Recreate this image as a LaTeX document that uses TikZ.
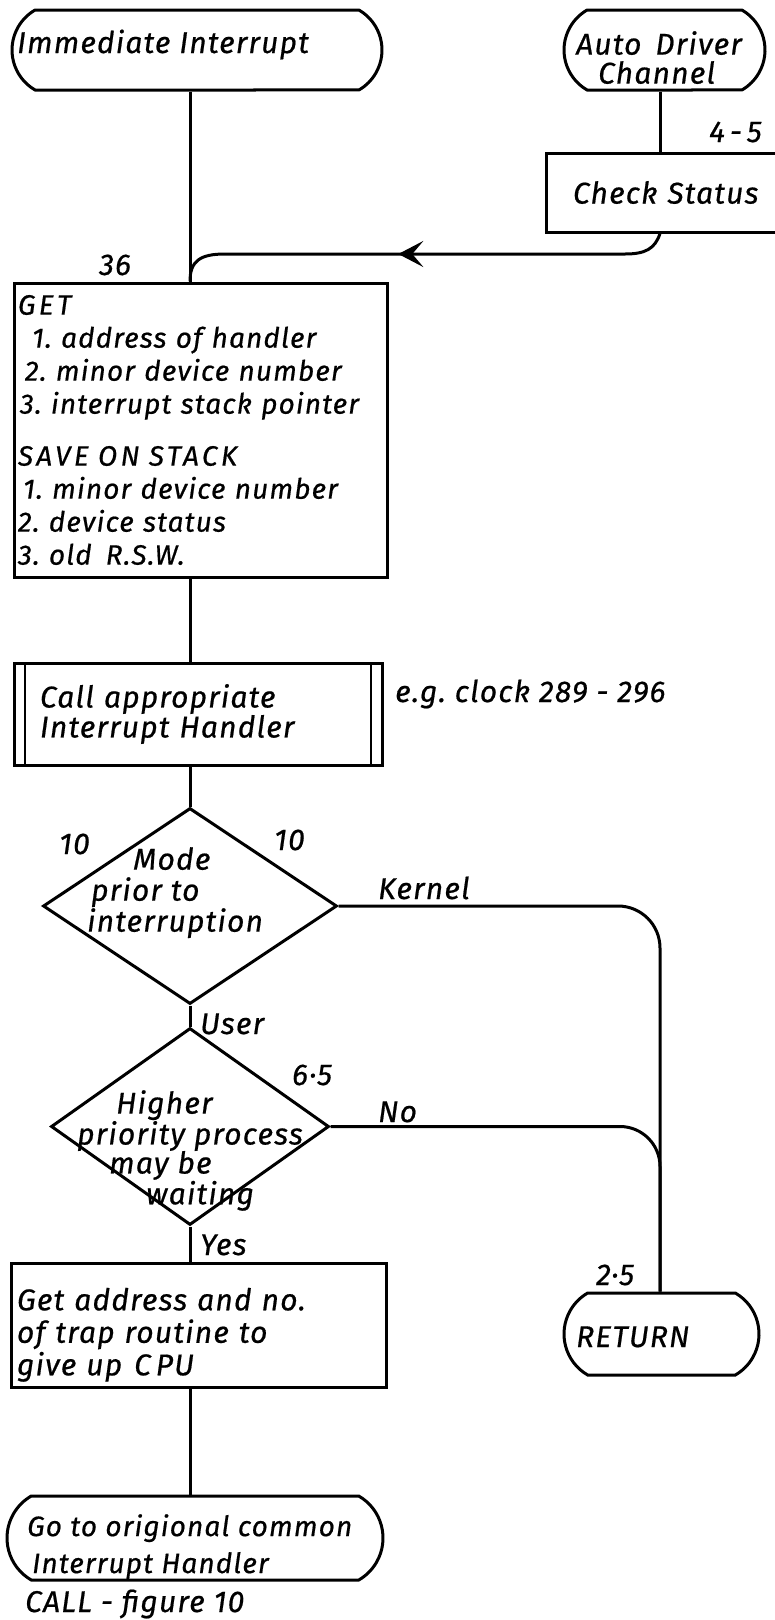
\documentclass[tikz,border=0pt]{standalone}
\usepackage{fontspec}
\setmainfont{Fira Sans}[LetterSpace=4, ItalicFeatures={FakeBold=0.6}]
\frenchspacing
\usetikzlibrary{shapes.geometric,shapes.misc,arrows.meta,decorations.markings}
\newcommand{\wide}{\addfontfeature{LetterSpace=12}}
\begin{document}
\begin{tikzpicture}[x=1pt,y=-1pt,
  every node/.style={font=\fontsize{30}{31}\selectfont\itshape},
  ln/.style={line width=3pt},
  term/.style={draw, line width=3pt, shape=rounded rectangle, rounded rectangle arc length=120, inner sep=0pt},
  box/.style={draw, line width=3pt, rectangle, inner sep=0pt},
  dia/.style={draw, line width=3pt, shape=diamond, inner sep=0pt},
  lbl/.style={inner sep=0pt, anchor=base west},
  ml/.style={inner sep=0pt, anchor=north west, align=left},
]
\useasboundingbox (0,0) rectangle (775,1620);
\fill[white] (0,0) rectangle (775,1620);
\clip (0,0) rectangle (775,1620);
\coordinate (spine) at (190,0);
\coordinate (rspine) at (660,0);

% top terminals
\node[term, minimum width=370pt, minimum height=80pt] (ii) at (197,50) {};
\node[lbl] (iit) at (17,53) {Immediate Interrupt};
\node[term, minimum width=201pt, minimum height=80pt] (ad) at (664.5,50) {};
\node[ml, font=\fontsize{30}{29}\selectfont\itshape] (adt) at (576,31) {Auto\hspace{14pt}Driver\\\hspace*{22pt}Channel};
\node[lbl] (n45) at (709,142) {4\,-\,5};
\node[box, minimum width=260pt, minimum height=79pt, text width=206pt, align=left] (cs) at (676,192.5) {Check Status};

\node[lbl] (n36) at (99,275) {36};
\node[box, minimum width=373pt, minimum height=294pt, text width=365pt, align=left,
      font=\fontsize{28}{33}\selectfont\itshape] (get) at (200.5,430)
 {{\wide GET}\\
  \hspace*{14pt}1. address of handler\\
  \hspace*{7pt}2. minor device number\\
  \hspace*{2pt}3. interrupt stack pointer\\[19pt]
  {\wide SAVE ON STACK}\\
  \hspace*{5pt}1. minor device number\\
  2. device status\\
  3. old\hspace{14pt}R.S.W.};

\node[box, minimum width=368pt, minimum height=102pt, text width=316pt, align=left,
      font=\fontsize{30}{30}\selectfont\itshape,
      path picture={
        \draw[line width=2.4pt] ([xshift=11pt]path picture bounding box.north west) -- ([xshift=11pt]path picture bounding box.south west);
        \draw[line width=2.4pt] ([xshift=-11pt]path picture bounding box.north east) -- ([xshift=-11pt]path picture bounding box.south east);}
     ] (call) at (198,714) {Call appropriate\\Interrupt Handler};
\node[lbl] (eg) at (395,702) {e.g. clock 289 - 296};

% decisions
\node[dia, minimum width=294pt, minimum height=196pt] (d1) at (190,906) {};
\node[ml] (d1t) at (87,847) {\hspace*{46pt}Mode\\\hspace*{4pt}prior to\\interruption};
\node[lbl] (n10a) at (59,854) {10};
\node[lbl] (n10b) at (274,850) {10};
\node[lbl] (kern) at (378,899) {Kernel};
\node[lbl] (user) at (200,1034) {User};

\node[dia, minimum width=278pt, minimum height=197pt] (d2) at (190,1126.5) {};
\node[ml, font=\fontsize{30}{29}\selectfont\itshape] (d2t) at (77,1090) {\hspace*{39pt}Higher\\priority process\\\hspace*{32pt}may be\\\hspace*{69pt}waiting};
\node[lbl] (n65) at (292,1085) {6·5};
\node[lbl] (no) at (378,1122) {No};
\node[lbl] (yes) at (200,1255) {Yes};

% lower boxes
\node[box, minimum width=375pt, minimum height=124pt, text width=363pt, align=left,
      font=\fontsize{30}{32.5}\selectfont\itshape] (ga) at (198.5,1325)
 {\rule{0pt}{42pt}Get address and no.\\of trap routine to\\give up\hspace{12pt}C\,PU};
\node[term, minimum width=376pt, minimum height=84pt] (go) at (195,1538) {};
\node[ml, font=\fontsize{28}{37}\selectfont\itshape] (got) at (27,1514) {Go to origional common\\\hspace*{5pt}Interrupt Handler};
\node[lbl] (call10) at (25,1612) {CALL - figure 10};

\node[term, minimum width=195pt, minimum height=82pt] (ret) at (661.5,1334) {};
\node[lbl] (rett) at (576,1347) {RETURN};
\node[lbl] (n25) at (596,1285) {2·5};

% connectors
\draw[ln] (ii.south -| spine) -- (get.north -| spine);
\draw[ln] (ad.south -| rspine) -- (cs.north -| rspine);
\draw[ln, postaction={decorate}, decoration={markings, mark=at position 271pt with {\arrow{Stealth[length=25pt,width=26pt,inset=11pt]}}}]
  (cs.south -| rspine) .. controls (655,249) and (645,254) .. (625,254) -- (225,254) .. controls (200,254) and (190,261) .. (get.north -| spine);
\draw[ln] (get.south -| spine) -- (call.north -| spine);
\draw[ln] (call.south -| spine) -- (d1.north);
\draw[ln] (d1.south) -- (d2.north);
\draw[ln] (d2.south) -- (ga.north -| spine);
\draw[ln] (ga.south -| spine) -- (go.north -| spine);
\draw[ln, rounded corners=42pt] (d1.east) -| (ret.north -| rspine);
\draw[ln, rounded corners=40pt] (d2.east) -| (ret.north -| rspine);
\end{tikzpicture}
\end{document}
